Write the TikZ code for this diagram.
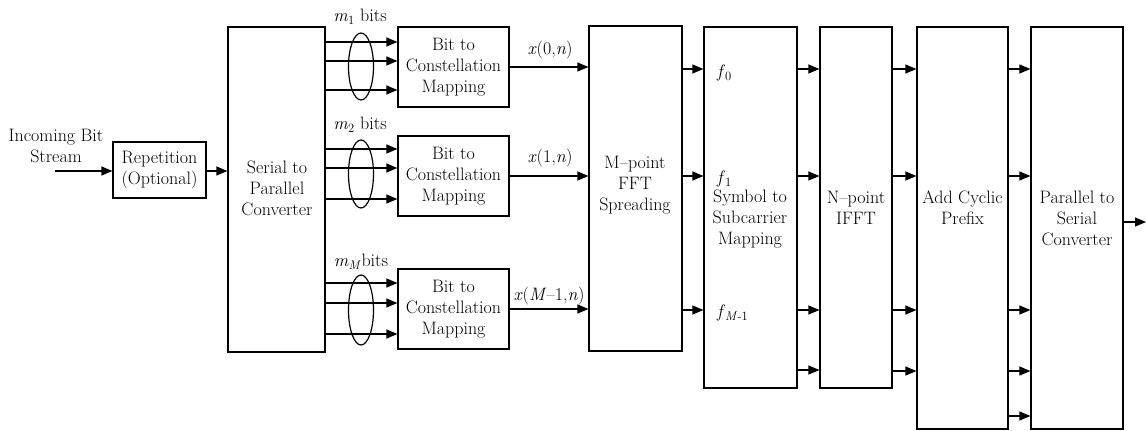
\documentclass[tikz,border=0pt]{standalone}
\usepackage{fontspec}
\usetikzlibrary{arrows.meta,shapes.geometric}
\newcommand{\sbs}[1]{\textsubscript{#1}}
\begin{document}
\begin{tikzpicture}[x=1pt,y=-1pt,
  every node/.style={font=\fontsize{18}{21}\selectfont},
  box/.style={draw,line width=1.2pt,rectangle,inner sep=0pt},
  lbl/.style={align=center,inner sep=0pt},
  arr/.style={line width=1.2pt,-{Triangle[length=11pt,width=9pt]}},
  grp/.style={draw,line width=1.2pt,ellipse,inner sep=0pt,minimum width=25pt}]
\useasboundingbox (0,0) rectangle (1146,431);
% boxes
\node[box,minimum width=93pt,minimum height=56pt] (rep) at (159.5,170) {};
\node[lbl] (reptxt) at (rep.center) {Repetition\\(Optional)};
\node[box,minimum width=97pt,minimum height=325pt] (ser) at (276.5,189.5) {};
\node[lbl] (sertxt) at (277,188) {Serial to\\Parallel\\Converter};
\node[box,minimum width=111pt,minimum height=80pt] (bc1) at (453.5,67) {};
\node[lbl] (bc1t) at (bc1.center) {Bit to\\Constellation\\Mapping};
\node[box,minimum width=111pt,minimum height=80pt] (bc2) at (453.5,176) {};
\node[lbl] (bc2t) at (bc2.center) {Bit to\\Constellation\\Mapping};
\node[box,minimum width=111pt,minimum height=80pt] (bc3) at (453.5,309) {};
\node[lbl] (bc3t) at (bc3.center) {Bit to\\Constellation\\Mapping};
\node[box,minimum width=93pt,minimum height=325pt] (fft) at (635.5,188.5) {};
\node[lbl] (ffttxt) at (635,185) {M--point\\FFT\\Spreading};
\node[box,minimum width=93pt,minimum height=361pt] (sym) at (750.5,207.5) {};
\node[lbl] (symtxt) at (750,219) {Symbol to\\Subcarrier\\Mapping};
\node[box,minimum width=72pt,minimum height=361pt] (ifft) at (856,207.5) {};
\node[lbl] (iffttxt) at (856,208) {N--point\\IFFT};
\node[box,minimum width=91pt,minimum height=402pt] (cp) at (962.5,228) {};
\node[lbl] (cptxt) at (962.5,208) {Add Cyclic\\Prefix};
\node[box,minimum width=92pt,minimum height=402pt] (ps) at (1077,228) {};
\node[lbl] (pstxt) at (1077,218) {Parallel to\\Serial\\Converter};
% input
\node[lbl] (intxt) at (56,146) {Incoming Bit\\Stream};
\coordinate (in) at (55,171);
\draw[arr] (in) -- (rep.west |- in);
\draw[arr] (rep.east |- 0,171) -- (ser.west |- 0,171);
% bit groups
\foreach \y in {42,61,90} \draw[arr] (ser.east |- 0,\y) -- (bc1.west |- 0,\y);
\foreach \y in {149,168,199} \draw[arr] (ser.east |- 0,\y) -- (bc2.west |- 0,\y);
\foreach \y in {283,303,334} \draw[arr] (ser.east |- 0,\y) -- (bc3.west |- 0,\y);
\node[grp,minimum height=67pt] (e1) at (361,66.5) {};
\node[grp,minimum height=68pt] (e2) at (361,174) {};
\node[grp,minimum height=70pt] (e3) at (361,310) {};
\node[lbl] (m1) at (360,17) {\textit{m}\sbs{1} bits};
\node[lbl] (m2) at (360,125) {\textit{m}\sbs{2} bits};
\node[lbl] (mM) at (361,262) {\textit{m}\sbs{\textit{M}}bits};
% to FFT
\draw[arr] (bc1.east) -- (fft.west |- bc1.east);
\draw[arr] (bc2.east) -- (fft.west |- bc2.east);
\draw[arr] (bc3.east) -- (fft.west |- bc3.east);
\node[lbl] (x0) at (550,50) {\textit{x}(0,\textit{n})};
\node[lbl] (x1) at (550,158) {\textit{x}(1,\textit{n})};
\node[lbl] (xM) at (549,296) {\textit{x}(\textit{M}--1,\textit{n})};
% FFT -> symbol
\foreach \y in {69,176,310} \draw[arr] (fft.east |- 0,\y) -- (sym.west |- 0,\y);
\node[lbl,anchor=west] (f0) at (717,73) {\textit{f}\sbs{0}};
\node[lbl,anchor=west] (f1) at (717,179) {\textit{f}\sbs{1}};
\node[lbl,anchor=west] (fM) at (717,313) {\textit{f}\sbs{\textit{M}-1}};
% symbol -> IFFT
\foreach \y in {69,176,310,370} \draw[arr] (sym.east |- 0,\y) -- (ifft.west |- 0,\y);
% IFFT -> CP
\foreach \y in {69,176,310,371} \draw[arr] (ifft.east |- 0,\y) -- (cp.west |- 0,\y);
% CP -> PS
\foreach \y in {69,176,310,371,416} \draw[arr] (cp.east |- 0,\y) -- (ps.west |- 0,\y);
% output
\coordinate (out) at (1146,222);
\draw[arr] (ps.east |- out) -- (out);
\end{tikzpicture}
\end{document}
